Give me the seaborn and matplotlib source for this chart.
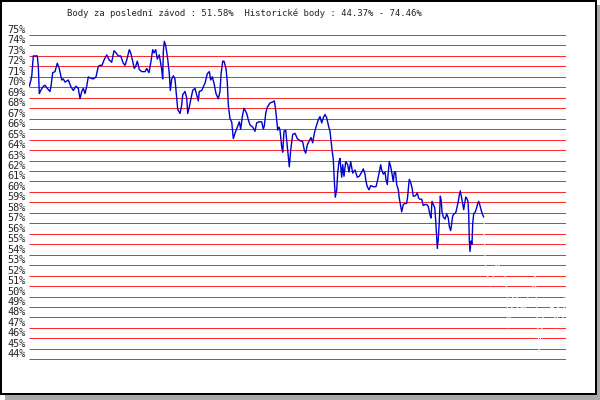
import matplotlib
matplotlib.use('Agg')
import matplotlib.pyplot as plt
import seaborn as sns
from matplotlib.patches import Rectangle

# poradi zavodu a body v %
zavod = [0.3, 2.7, 4.3, 7.0, 8.3, 9.3, 10.3, 11.7, 14.3, 16.0,
         18.3, 21.0, 22.0, 23.7, 26.0, 28.3, 30.3, 32.7, 34.3, 36.0,
         39.3, 41.7, 44.3, 47.0, 49.3, 51.0, 52.7, 54.3, 56.0, 57.7,
         59.3, 61.0, 64.3, 67.0, 69.3, 71.0, 73.0, 75.0, 77.7, 80.3,
         82.7, 85.0, 87.0, 89.3, 91.7, 94.3, 96.0, 97.7, 100.3, 101.7,
         103.7, 105.3, 106.7, 108.3, 110.3, 112.7, 116.0, 117.7, 120.0, 122.0,
         123.7, 125.0, 126.7, 128.3, 130.3, 131.7, 132.7, 133.7, 134.3, 135.3,
         136.7, 138.7, 140.3, 141.3, 142.7, 144.3, 146.0, 147.7, 148.7, 151.0,
         152.7, 153.7, 156.0, 157.7, 158.7, 160.0, 162.0, 163.7, 166.0, 167.7,
         169.3, 170.3, 172.7, 176.0, 178.3, 180.3, 181.7, 183.3, 185.0, 187.0,
         189.3, 191.0, 192.0, 193.7, 195.0, 197.0, 198.3, 199.3, 201.0, 202.7,
         204.3, 206.0, 208.3, 210.3, 211.7, 213.3, 215.0, 217.7, 219.3, 221.0,
         223.7, 226.0, 227.7, 230.0, 232.7, 234.3, 235.3, 236.7, 238.3, 241.0,
         243.7, 245.3, 246.3, 247.7, 248.7, 250.0, 251.0, 252.7, 253.7, 255.0,
         256.7, 258.3, 260.3, 261.7, 263.7, 266.0, 268.3, 271.0, 273.7, 275.3,
         276.7, 278.3, 280.3, 282.0, 283.7, 285.3, 287.0, 289.3, 291.0, 292.7,
         294.3, 296.0, 297.7, 299.3, 301.0, 302.7, 304.3, 305.3, 306.3, 307.7,
         308.7, 310.0, 311.0, 312.7, 313.7, 315.0, 316.7, 318.7, 320.0, 321.7,
         323.7, 326.0, 328.3, 330.3, 332.7, 334.3, 336.0, 337.0, 338.3, 340.0,
         341.7, 344.3, 347.0, 348.3, 350.3, 351.7, 352.7, 354.3, 356.0, 357.0,
         358.3, 359.3, 360.3, 361.7, 362.7, 364.3, 365.3, 366.5, 367.7, 369.3,
         370.3, 371.0, 372.7, 374.3, 376.0, 377.7, 378.7, 379.7, 380.3, 381.7,
         383.0, 384.3, 385.7, 387.0, 388.3, 389.7, 391.0, 392.7, 394.3, 396.0,
         397.7, 399.3, 401.0, 402.0, 403.0, 404.3, 405.7, 406.7, 407.7, 408.3,
         409.3, 410.3, 411.3, 412.3, 413.0, 414.3, 416.0, 417.7, 419.3, 420.3,
         421.7, 422.7, 423.7, 425.0, 426.7, 427.7, 429.3, 430.3, 431.3, 432.3,
         433.7, 434.7, 435.7, 436.7, 437.7, 439.0, 439.7, 440.3, 441.0, 442.0,
         443.0, 443.7, 444.7, 446.3, 447.7, 448.7, 449.7, 451.0, 452.3, 453.7,
         454.7]
body = [70.1, 71.0, 73.0, 73.0, 73.0, 72.0, 69.4, 69.7, 70.1, 70.2,
        69.9, 69.6, 70.1, 71.4, 71.5, 72.3, 71.8, 70.7, 70.8, 70.5,
        70.7, 70.1, 69.7, 70.1, 69.9, 68.9, 69.6, 69.9, 69.4, 70.1,
        71.0, 70.9, 70.8, 71.0, 72.0, 72.1, 72.1, 72.6, 73.1, 72.6,
        72.4, 73.5, 73.3, 73.0, 73.0, 72.3, 72.1, 72.6, 73.6, 73.3,
        72.5, 71.8, 72.0, 72.5, 71.7, 71.5, 71.5, 71.8, 71.4, 72.5,
        73.6, 73.3, 73.6, 72.7, 73.1, 72.3, 71.7, 70.8, 73.4, 74.4,
        74.0, 72.7, 71.3, 69.7, 70.8, 71.1, 70.8, 69.0, 67.9, 67.5,
        68.3, 69.3, 69.6, 69.0, 67.5, 68.0, 68.9, 69.7, 69.9, 69.3,
        68.7, 69.6, 69.7, 70.4, 71.3, 71.5, 70.7, 71.0, 70.4, 69.4,
        68.9, 69.6, 71.2, 72.5, 72.5, 71.8, 70.5, 68.3, 67.0, 66.7,
        65.1, 65.6, 66.2, 66.7, 66.0, 67.2, 68.0, 67.5, 66.9, 66.4,
        66.2, 65.8, 66.6, 66.7, 66.7, 66.0, 66.3, 67.5, 68.1, 68.5,
        68.6, 68.7, 68.1, 66.9, 65.9, 66.2, 65.9, 64.3, 63.8, 65.8,
        65.9, 64.3, 62.4, 64.0, 65.5, 65.6, 65.1, 64.9, 64.8, 64.0,
        63.7, 64.5, 64.9, 65.2, 64.7, 65.6, 66.2, 66.9, 67.2, 66.6,
        67.1, 67.4, 67.1, 66.4, 65.8, 64.3, 63.1, 61.1, 59.5, 60.2,
        61.8, 62.9, 63.2, 61.4, 62.6, 61.5, 62.9, 62.6, 61.9, 62.9,
        61.8, 62.1, 61.4, 61.5, 61.9, 62.2, 61.7, 61.0, 60.5, 60.2,
        60.6, 60.5, 60.5, 61.0, 61.9, 62.6, 62.1, 61.7, 61.9, 61.2,
        60.7, 61.9, 62.9, 62.4, 61.9, 61.0, 61.9, 61.9, 60.7, 60.2,
        59.4, 59.0, 58.1, 58.8, 58.9, 58.9, 59.6, 60.7, 61.2, 60.9,
        60.4, 59.6, 59.6, 59.7, 59.9, 59.4, 59.3, 59.3, 58.7, 58.8,
        58.8, 58.6, 57.8, 57.5, 59.1, 58.8, 58.5, 57.3, 55.6, 54.6,
        55.5, 57.2, 59.6, 59.1, 58.1, 57.6, 57.4, 57.9, 57.5, 56.7,
        56.3, 57.0, 57.7, 57.9, 58.0, 58.4, 59.1, 59.7, 60.1, 59.6,
        58.9, 58.3, 58.9, 59.5, 59.4, 59.1, 57.9, 55.4, 54.3, 55.3,
        55.0, 57.0, 57.9, 58.1, 58.5, 58.9, 59.1, 58.7, 58.2, 57.8,
        57.6]

# pokracovani krivky (bile)
zavod_bila = [454.7, 456.0, 457.0, 461.0, 464.0, 467.0, 469.0, 476.0, 478.0, 479.0,
              483.0, 484.0, 488.0, 489.0, 493.0, 497.0, 499.0, 504.0, 506.0, 507.0,
              508.0, 510.0, 514.0, 519.0, 524.0, 526.0, 528.0, 529.0, 534.0, 536.0,
              537.0]
body_bila = [57.6, 54.0, 52.5, 51.0, 51.8, 53.0, 53.1, 52.0, 50.5, 47.0,
             49.0, 50.0, 50.0, 48.5, 49.0, 49.0, 50.0, 51.0, 52.0, 50.5,
             48.5, 44.8, 48.0, 48.8, 49.0, 48.0, 47.0, 49.0, 48.0, 50.0,
             50.0]

urovne = list(range(75, 43, -1))
popisky = [f'{u}%' for u in urovne]
titulek = 'Body za poslední závod : 51.58%  Historické body : 44.37% - 74.46%'

sns.set_style('white')
plt.rcParams['font.family'] = ['DejaVu Sans Mono', 'DejaVu Sans']

W, H = 600, 400
fig = plt.figure(figsize=(6, 4), dpi=100)
fig.patch.set_facecolor('white')

# ramecek se stinem
fig.add_artist(Rectangle((5 / W, 0), 595 / W, 395 / H, transform=fig.transFigure,
                         facecolor='#aaaaaa', edgecolor='none', zorder=-30))
fig.add_artist(Rectangle((0, 1 - 395 / H), 597 / W, 395 / H, transform=fig.transFigure,
                         facecolor='black', edgecolor='none', zorder=-20))
fig.add_artist(Rectangle((2 / W, 1 - 392.5 / H), 592.5 / W, 390.5 / H,
                         transform=fig.transFigure, facecolor='white',
                         edgecolor='none', zorder=-10))

ax = fig.add_axes([29 / W, 1 - 364.3 / H, 537 / W, 334.3 / H])
ax.patch.set_alpha(0)

ax.hlines(urovne, 0, 537, colors='#ff0000', lw=0.6, zorder=1)
sns.lineplot(x=zavod, y=body, color='#0000cc', lw=1.0, ax=ax,
             estimator=None, sort=False, zorder=3)
sns.lineplot(x=zavod_bila, y=body_bila, color='white', lw=0.8, ax=ax,
             estimator=None, sort=False, zorder=2)

ax.set_xlim(0, 537)
ax.set_ylim(43.52, 75.48)
ax.set_xticks([])
ax.set_yticks(urovne)
ax.set_yticklabels(popisky, fontsize=7.4, va='bottom')
ax.tick_params(axis='y', length=0, pad=2.5)
ax.set_xlabel('')
ax.set_ylabel('')
for s in ax.spines.values():
    s.set_visible(False)

fig.text(244.5 / W, 1 - 13 / H, titulek, ha='center', va='center', fontsize=6.5)

plt.savefig('out.png', dpi=100)
